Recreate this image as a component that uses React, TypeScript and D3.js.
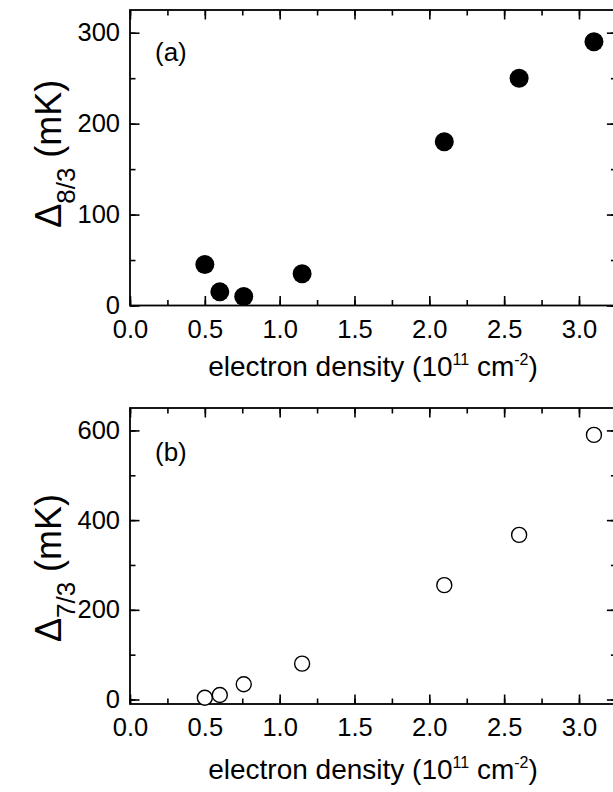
import React, { useEffect, useRef } from "react";
import * as d3 from "d3";

// electron density (10^11 cm^-2) and energy gaps (mK)
const density = [0.5, 0.6, 0.76, 1.15, 2.1, 2.6, 3.1];
const gap83 = [45, 15, 10, 35, 180, 250, 290];
const gap73 = [4, 10, 34, 80, 255, 367, 590];

const xTicks = [0, 0.5, 1.0, 1.5, 2.0, 2.5, 3.0];
const yTicksA = [0, 100, 200, 300];
const yTicksB = [0, 200, 400, 600];

const W = 613;
const H = 792;
const FONT = "'Liberation Sans', Arial, Helvetica, sans-serif";

interface Panel {
  top: number;
  bottom: number;
  yDomain: [number, number];
  yTicks: number[];
  yMinorStep: number;
  values: number[];
  filled: boolean;
  tag: string;
  tagY: number;
  sub: string;
  xLabelDy: number;
  yLabelShift: number;
}

const panels: Panel[] = [
  { top: 10, bottom: 305.5, yDomain: [0, 325], yTicks: yTicksA, yMinorStep: 50, values: gap83, filled: true,
    tag: "(a)", tagY: 61, sub: "8/3", xLabelDy: 70, yLabelShift: -4 },
  { top: 408, bottom: 704, yDomain: [-10, 650], yTicks: yTicksB, yMinorStep: 100, values: gap73, filled: false,
    tag: "(b)", tagY: 461, sub: "7/3", xLabelDy: 75, yLabelShift: 12 },
];

const left = 130;
const right = 616.4;

function drawPanel(svg: any, p: Panel) {
  const x = d3.scaleLinear().domain([0, 3.25]).range([left, right]);
  const y = d3.scaleLinear().domain(p.yDomain).range([p.bottom, p.top]);
  const g = svg.append("g");

  const xMinor = d3.range(0, 3.26, 0.25);
  const yMinor = d3.range(0, p.yDomain[1] + 1, p.yMinorStep);

  const style = (sel: any) => {
    sel.select(".domain").remove();
    sel.selectAll("line").attr("stroke", "#000").attr("stroke-width", 1.6);
    sel.selectAll("text").attr("font-family", FONT).attr("font-size", 25.5).attr("fill", "#000");
  };

  // minor ticks
  g.append("g").attr("transform", `translate(0,${p.bottom})`)
    .call(d3.axisBottom(x).tickValues(xMinor).tickSize(-5.5).tickFormat(() => "")).call(style);
  g.append("g").attr("transform", `translate(0,${p.top})`)
    .call(d3.axisTop(x).tickValues(xMinor).tickSize(-5.5).tickFormat(() => "")).call(style);
  g.append("g").attr("transform", `translate(${left},0)`)
    .call(d3.axisLeft(y).tickValues(yMinor).tickSize(-5.5).tickFormat(() => "")).call(style);
  g.append("g").attr("transform", `translate(${right},0)`)
    .call(d3.axisRight(y).tickValues(yMinor).tickSize(-5.5).tickFormat(() => "")).call(style);

  // major ticks
  g.append("g").attr("transform", `translate(0,${p.bottom})`)
    .call(d3.axisBottom(x).tickValues(xTicks).tickSize(-9.5).tickPadding(14).tickFormat(d3.format(".1f"))).call(style);
  g.append("g").attr("transform", `translate(0,${p.top})`)
    .call(d3.axisTop(x).tickValues(xTicks).tickSize(-9.5).tickFormat(() => "")).call(style);
  g.append("g").attr("transform", `translate(${left},0)`)
    .call(d3.axisLeft(y).tickValues(p.yTicks).tickSize(-9.5).tickPadding(10).tickFormat(d3.format("d"))).call(style);
  g.append("g").attr("transform", `translate(${right},0)`)
    .call(d3.axisRight(y).tickValues(p.yTicks).tickSize(-9.5).tickFormat(() => "")).call(style);

  // frame
  g.append("rect")
    .attr("x", left).attr("y", p.top)
    .attr("width", right - left).attr("height", p.bottom - p.top)
    .attr("fill", "none").attr("stroke", "#000").attr("stroke-width", 1.8);

  // points
  g.selectAll("circle.pt")
    .data(density.map((d, i) => [d, p.values[i]]))
    .enter()
    .append("circle")
    .attr("class", "pt")
    .attr("cx", (d: number[]) => x(d[0]))
    .attr("cy", (d: number[]) => y(d[1]))
    .attr("r", p.filled ? 9.5 : 7.5)
    .attr("fill", p.filled ? "#000" : "#fff")
    .attr("stroke", "#000")
    .attr("stroke-width", p.filled ? 0 : 1.4);

  // panel tag
  g.append("text")
    .attr("x", 155).attr("y", p.tagY)
    .attr("font-family", FONT).attr("font-size", 26)
    .text(p.tag);

  // x label
  const xl = g.append("text")
    .attr("x", 373).attr("y", p.bottom + p.xLabelDy)
    .attr("text-anchor", "middle")
    .attr("font-family", FONT).attr("font-size", 28);
  xl.append("tspan").text("electron density (10");
  xl.append("tspan").attr("dy", -11).attr("font-size", 16).text("11");
  xl.append("tspan").attr("dy", 11).text(" cm");
  xl.append("tspan").attr("dy", -11).attr("font-size", 16).text("-2");
  xl.append("tspan").attr("dy", 11).text(")");

  // y label
  const cy = (p.top + p.bottom) / 2 + p.yLabelShift;
  const yl = g.append("text")
    .attr("transform", `translate(61,${cy}) rotate(-90)`)
    .attr("text-anchor", "middle")
    .attr("font-family", FONT).attr("font-size", 36);
  yl.append("tspan").text("\u0394");
  yl.append("tspan").attr("dy", 14).attr("font-size", 26).text(p.sub);
  yl.append("tspan").attr("dy", -14).text(" (mK)");
}

export default function App() {
  const ref = useRef<SVGSVGElement>(null);

  useEffect(() => {
    const svg = d3.select(ref.current);
    svg.selectAll("*").remove();
    panels.forEach((p) => drawPanel(svg, p));
  }, []);

  return (
    <svg
      ref={ref}
      width={W}
      height={H}
      style={{ position: "absolute", left: 0, top: 0, background: "#fff" }}
    />
  );
}
